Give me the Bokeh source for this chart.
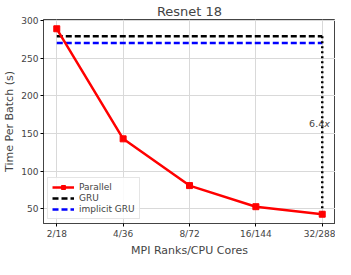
from bokeh.plotting import figure
from bokeh.models import FixedTicker, Range1d, Legend, LegendItem, Label
from bokeh.embed import file_html
from bokeh.resources import INLINE

categories = ["2/18", "4/36", "8/72", "16/144", "32/288"]
parallel = [289, 143, 81, 53, 43]
gru = 279
implicit_gru = 270
speedup_label = "6.4"

idx = list(range(len(categories)))
FONT = "DejaVu Sans"

p = figure(width=335, height=259, output_backend="svg", toolbar_location=None,
           x_range=Range1d(-0.2, 4.2), y_range=Range1d(30.7, 301.3),
           min_border_left=0, min_border_right=0, min_border_top=0, min_border_bottom=0)

p.title.text = "Resnet 18"
p.title.align = "center"
p.title.text_font = FONT
p.title.text_font_size = "13px"
p.title.text_font_style = "normal"
p.title.standoff = 2

p.xaxis.axis_label = "MPI Ranks/CPU Cores"
p.yaxis.axis_label = "Time Per Batch (s)"
for ax in (p.xaxis, p.yaxis):
    ax.axis_label_text_font = FONT
    ax.axis_label_text_font_size = "11px"
    ax.axis_label_text_font_style = "normal"
    ax.major_label_text_font = FONT
    ax.major_label_text_font_size = "9px"
    ax.minor_tick_line_color = None
    ax.major_tick_in = 0
    ax.major_tick_out = 3
    ax.axis_line_color = "#444444"
    ax.major_label_standoff = 2
    ax.axis_label_standoff = 2

p.xaxis.ticker = FixedTicker(ticks=idx)
p.xaxis.major_label_overrides = {i: c for i, c in zip(idx, categories)}
p.yaxis.ticker = FixedTicker(ticks=[50, 100, 150, 200, 250, 300])

p.grid.grid_line_color = "#d9d9d9"
p.grid.grid_line_width = 1
p.outline_line_color = "#444444"

r_gru = p.line([idx[0], idx[-1]], [gru, gru], line_color="black", line_width=2.5, line_dash="6 3")
r_imp = p.line([idx[0], idx[-1]], [implicit_gru, implicit_gru], line_color="blue", line_width=2.5, line_dash="6 3")
p.line([idx[-1], idx[-1]], [gru, parallel[-1]], line_color="black", line_width=2.5, line_dash="2 3")
r_par = p.line(idx, parallel, line_color="red", line_width=2.5)
r_par_m = p.scatter(idx, parallel, marker="square", size=6, fill_color="red", line_color="red")

p.add_layout(Label(x=idx[-1], y=163, text=speedup_label, text_align="right", x_offset=2,
                   text_font=FONT, text_font_size="9.5px", text_baseline="middle"))
p.add_layout(Label(x=idx[-1], y=163, text="x", text_align="left", x_offset=2,
                   text_font=FONT, text_font_size="9.5px", text_font_style="italic",
                   text_baseline="middle"))

legend = Legend(items=[LegendItem(label="Parallel", renderers=[r_par, r_par_m]),
                       LegendItem(label="GRU", renderers=[r_gru]),
                       LegendItem(label="implicit GRU", renderers=[r_imp])],
                location="bottom_left")
legend.label_text_font = FONT
legend.label_text_font_size = "9px"
legend.glyph_width = 22
legend.glyph_height = 10
legend.label_height = 10
legend.spacing = 1
legend.padding = 4
legend.margin = 4
legend.border_line_color = "#cccccc"
legend.background_fill_alpha = 0.85
p.add_layout(legend)

open("out.html", "w").write(file_html(p, INLINE))
